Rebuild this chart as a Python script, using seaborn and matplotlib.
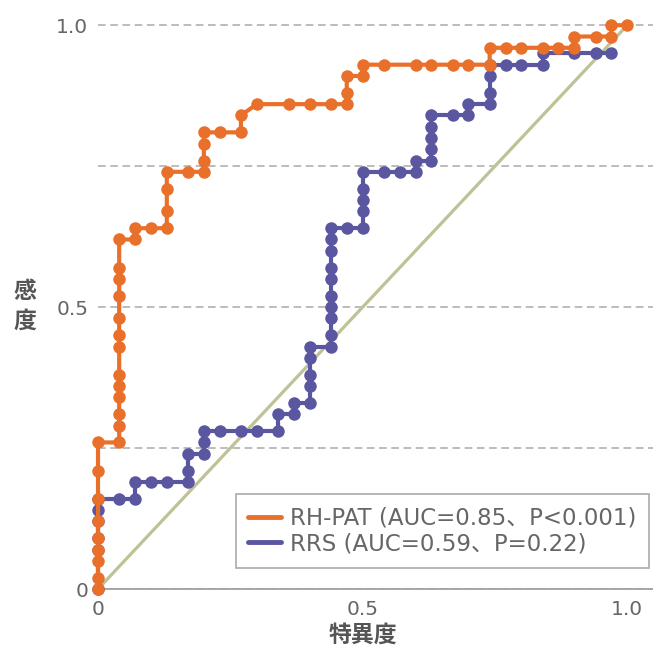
import matplotlib
matplotlib.use("Agg")
import matplotlib.pyplot as plt
from matplotlib.lines import Line2D
import seaborn as sns
import pandas as pd

# ROC points (1 - specificity on x, sensitivity on y)
rhpat_fpr = [0, 0, 0, 0, 0, 0, 0, 0, 0,
             0.04, 0.04, 0.04, 0.04, 0.04, 0.04, 0.04, 0.04, 0.04, 0.04, 0.04, 0.04, 0.04,
             0.07, 0.07, 0.10, 0.13, 0.13, 0.13, 0.13, 0.17, 0.20, 0.20, 0.20, 0.20,
             0.23, 0.27, 0.27, 0.30, 0.36, 0.40, 0.44, 0.47, 0.47, 0.47, 0.50, 0.50,
             0.54, 0.60, 0.63, 0.67, 0.70, 0.74, 0.74, 0.77, 0.80, 0.84, 0.87, 0.90,
             0.90, 0.94, 0.97, 0.97, 1.00]
rhpat_tpr = [0, 0.02, 0.05, 0.07, 0.09, 0.12, 0.16, 0.21, 0.26,
             0.26, 0.29, 0.31, 0.34, 0.36, 0.38, 0.43, 0.45, 0.48, 0.52, 0.55, 0.57, 0.62,
             0.62, 0.64, 0.64, 0.64, 0.67, 0.71, 0.74, 0.74, 0.74, 0.76, 0.79, 0.81,
             0.81, 0.81, 0.84, 0.86, 0.86, 0.86, 0.86, 0.86, 0.88, 0.91, 0.91, 0.93,
             0.93, 0.93, 0.93, 0.93, 0.93, 0.93, 0.96, 0.96, 0.96, 0.96, 0.96, 0.96,
             0.98, 0.98, 0.98, 1.00, 1.00]

rrs_fpr = [0, 0, 0, 0, 0, 0, 0.04, 0.07, 0.07, 0.10, 0.13, 0.17, 0.17, 0.17,
           0.20, 0.20, 0.20, 0.23, 0.27, 0.30, 0.34, 0.34, 0.37, 0.37,
           0.40, 0.40, 0.40, 0.40, 0.40, 0.44, 0.44, 0.44, 0.44, 0.44, 0.44,
           0.44, 0.44, 0.44, 0.44, 0.47, 0.50, 0.50, 0.50, 0.50, 0.50,
           0.54, 0.57, 0.60, 0.60, 0.63, 0.63, 0.63, 0.63, 0.63, 0.67, 0.70,
           0.70, 0.74, 0.74, 0.74, 0.74, 0.77, 0.80, 0.84, 0.84, 0.90, 0.94, 0.97]
rrs_tpr = [0, 0.07, 0.09, 0.12, 0.14, 0.16, 0.16, 0.16, 0.19, 0.19, 0.19, 0.19, 0.21, 0.24,
           0.24, 0.26, 0.28, 0.28, 0.28, 0.28, 0.28, 0.31, 0.31, 0.33,
           0.33, 0.36, 0.38, 0.41, 0.43, 0.43, 0.45, 0.48, 0.50, 0.52, 0.55,
           0.57, 0.60, 0.62, 0.64, 0.64, 0.64, 0.67, 0.69, 0.71, 0.74,
           0.74, 0.74, 0.74, 0.76, 0.76, 0.78, 0.80, 0.82, 0.84, 0.84, 0.84,
           0.86, 0.86, 0.88, 0.91, 0.93, 0.93, 0.93, 0.93, 0.95, 0.95, 0.95, 0.95]

chance = [0, 1]
series_labels = ["RH-PAT (AUC=0.85、P<0.001)", "RRS (AUC=0.59、P=0.22)"]
series_colors = ["#E9702B", "#5A56A0"]
tick_vals = [0, 0.25, 0.5, 0.75, 1.0]
tick_text = ["0", "", "0.5", "", "1.0"]

sns.set_style("white")
plt.rcParams['font.family'] = ['DejaVu Sans', 'Noto Sans CJK JP']
cjk = ['Noto Sans CJK JP', 'DejaVu Sans']

fig = plt.figure(figsize=(6.53, 6.52), dpi=100)
ax = fig.add_axes([0.1501, 0.0966, 0.851, 0.882])

ax.plot(chance, chance, color="#BFC196", lw=2.3, zorder=1, solid_capstyle="butt")

rrs = pd.DataFrame({"fpr": rrs_fpr, "tpr": rrs_tpr})
rh = pd.DataFrame({"fpr": rhpat_fpr, "tpr": rhpat_tpr})
sns.lineplot(data=rrs, x="fpr", y="tpr", sort=False, estimator=None, ax=ax,
             color=series_colors[1], lw=3, marker="o", markersize=9,
             markeredgewidth=0, clip_on=False, zorder=3)
sns.lineplot(data=rh, x="fpr", y="tpr", sort=False, estimator=None, ax=ax,
             color=series_colors[0], lw=3, marker="o", markersize=9,
             markeredgewidth=0, clip_on=False, zorder=4)

ax.set_xlim(0, 1.05)
ax.set_ylim(0, 1.02)
ax.set_xticks([0, 0.5, 1.0])
ax.set_xticklabels(["0", "0.5", "1.0"])
ax.set_yticks(tick_vals)
ax.set_yticklabels(tick_text)
ax.tick_params(axis="both", length=0, labelsize=14.5, labelcolor="#666666")
ax.tick_params(axis="x", pad=8)
ax.tick_params(axis="y", pad=7)

ax.yaxis.grid(True, color="#AAAAAA", lw=1.1, linestyle=(0, (5, 3)))
ax.xaxis.grid(False)
for side in ["left", "right", "top"]:
    ax.spines[side].set_visible(False)
ax.spines["bottom"].set_color("#A0A0A0")
ax.spines["bottom"].set_linewidth(1.3)
ax.spines["bottom"].set_zorder(2)

ax.set_xlabel("特異度", fontsize=16.5, fontweight="bold", color="#555555", family=cjk)
ax.xaxis.set_label_coords(0.476, -0.061)
ax.set_ylabel("感\n度", fontsize=16.5, fontweight="bold", color="#555555", family=cjk,
              rotation=0, va="center", ha="center", linespacing=1.35)
ax.yaxis.set_label_coords(-0.132, 0.492)

handles = [Line2D([0], [0], color=c, lw=3.5) for c in series_colors]
leg = ax.legend(handles, series_labels, loc="lower right",
                bbox_to_anchor=(0.991, 0.037), borderaxespad=0,
                fontsize=16.5, handlelength=1.4, handletextpad=0.4,
                labelspacing=0.1, borderpad=0.55, frameon=True,
                fancybox=False, framealpha=1)
leg.get_frame().set_edgecolor("#AAAAAA")
leg.get_frame().set_linewidth(1.2)
for t in leg.get_texts():
    t.set_color("#666666")

fig.savefig("out.png", dpi=100)
